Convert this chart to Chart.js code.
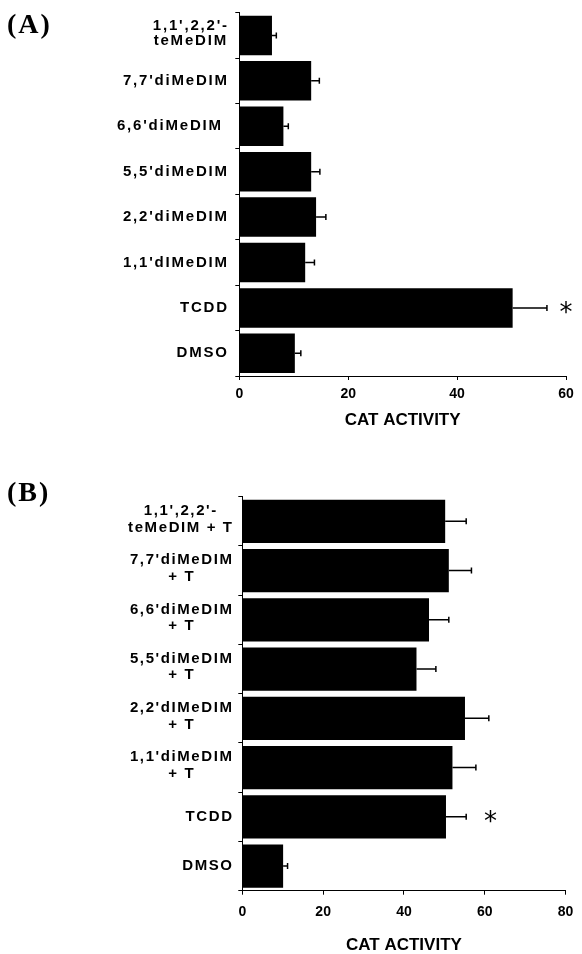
<!DOCTYPE html>
<html><head><meta charset="utf-8">
<script src="https://cdn.jsdelivr.net/npm/chart.js@4.4.1/dist/chart.umd.min.js"></script>
<style>
html,body{margin:0;padding:0;background:#fff;}
#wrap{position:relative;width:582px;height:954px;overflow:hidden;background:#fff;}
canvas{position:absolute;left:0;}
#cA{top:0;}
#cB{top:470px;}
.panel{position:absolute;left:7px;font-family:'Liberation Serif','Times New Roman',serif;font-weight:bold;font-size:28px;line-height:28px;letter-spacing:2px;color:#000;white-space:nowrap;}
</style></head><body>
<div id="wrap">
<canvas id="cA" width="582" height="470" style="width:582px;height:470px"></canvas>
<canvas id="cB" width="582" height="484" style="width:582px;height:484px"></canvas>
<div class="panel" style="top:10px">(A)</div>
<div class="panel" style="top:478px">(B)</div>
</div>
<script>
// ---- data ----
const categoriesA = [["1,1',2,2'-","teMeDIM"],"7,7'diMeDIM","6,6'diMeDIM ","5,5'diMeDIM","2,2'diMeDIM","1,1'dIMeDIM","TCDD","DMSO"];
const valuesA = [6.0, 13.2, 8.1, 13.2, 14.1, 12.1, 50.2, 10.2];
const errorsA = [0.8, 1.5, 0.9, 1.6, 1.8, 1.7, 6.3, 1.1];
const ticksA = [0, 20, 40, 60];

const categoriesB = [["1,1',2,2'-","teMeDIM + T"],["7,7'diMeDIM","+ T"],["6,6'diMeDIM","+ T"],["5,5'diMeDIM","+ T"],["2,2'dIMeDIM","+ T"],["1,1'diMeDIM","+ T"],"TCDD","DMSO"];
const valuesB = [50.2, 51.1, 46.2, 43.1, 55.1, 52.0, 50.4, 10.1];
const errorsB = [5.2, 5.6, 4.9, 4.8, 5.9, 5.8, 5.0, 1.1];
const ticksB = [0, 20, 40, 60, 80];

const axisTitle = 'CAT ACTIVITY';
const starIndex = 6;          // TCDD row marked significant
const starValueA = 60;
const starValueB = 61.4;

const SANS = '"Liberation Sans", Arial, Helvetica, sans-serif';

function build(id, labels, values, errs, ticks, starVal, geo) {
  const extras = {
    id: 'extras',
    afterDatasetsDraw(chart) {
      const ctx = chart.ctx, xs = chart.scales.x, ys = chart.scales.y;
      ctx.save();
      // error bars
      ctx.strokeStyle = '#000';
      ctx.lineWidth = 1.5;
      values.forEach((v, i) => {
        const yc = ys.getPixelForValue(i);
        const x0 = xs.getPixelForValue(v), x1 = xs.getPixelForValue(v + errs[i]);
        ctx.beginPath();
        ctx.moveTo(x0, yc); ctx.lineTo(x1, yc);
        ctx.moveTo(x1, yc - 3); ctx.lineTo(x1, yc + 3);
        ctx.stroke();
      });
      // significance star
      ctx.fillStyle = '#000';
      ctx.font = '26px "DejaVu Sans", sans-serif';
      ctx.textAlign = 'left';
      ctx.textBaseline = 'alphabetic';
      const m = ctx.measureText('*');
      const sx = xs.getPixelForValue(starVal), sy = ys.getPixelForValue(starIndex);
      ctx.fillText('*', sx - (m.actualBoundingBoxRight - m.actualBoundingBoxLeft) / 2 + m.actualBoundingBoxLeft,
                   sy + (m.actualBoundingBoxAscent - m.actualBoundingBoxDescent) / 2);
      // category labels
      ctx.font = 'bold 15px ' + SANS;
      ctx.letterSpacing = geo.ls + 'px';
      ctx.textAlign = 'center';
      ctx.textBaseline = 'middle';
      labels.forEach((lab, i) => {
        const lines = Array.isArray(lab) ? lab : [lab];
        const w = Math.max(...lines.map(l => ctx.measureText(l).width));
        const cx = geo.labelRight + geo.ls - w / 2;
        const yc = ys.getPixelForValue(i) + (lines.length > 1 ? geo.mlOff : 0);
        lines.forEach((l, k) => ctx.fillText(l, cx, yc + (k - (lines.length - 1) / 2) * geo.lh));
      });
      ctx.restore();
    }
  };
  return new Chart(document.getElementById(id), {
    type: 'bar',
    data: {
      labels: labels.map(l => Array.isArray(l) ? l.join(' ') : l),
      datasets: [{ data: values, backgroundColor: '#000', borderWidth: 0,
                   barPercentage: geo.bp, categoryPercentage: 1 }]
    },
    options: {
      indexAxis: 'y', responsive: false, animation: false, events: [],
      layout: { padding: { top: geo.top, right: geo.right, bottom: geo.bottom, left: 0 } },
      plugins: { legend: { display: false }, tooltip: { enabled: false } },
      scales: {
        x: {
          type: 'linear', min: ticks[0], max: ticks[ticks.length - 1],
          afterBuildTicks(s) { s.ticks = ticks.map(v => ({ value: v })); },
          ticks: { padding: geo.tp, color: '#000', font: { family: SANS, size: 14, weight: 'bold' } },
          grid: { drawOnChartArea: false, tickLength: 4, color: '#000', lineWidth: 1 },
          border: { color: '#000', width: 1 },
          title: { display: true, text: axisTitle, color: '#000', padding: 0,
                   font: { family: SANS, size: 17, weight: 'bold', lineHeight: 1 } },
          afterFit(s) { s.height = geo.xh; }
        },
        y: {
          ticks: { display: false },
          grid: { drawOnChartArea: false, tickLength: 4, color: '#000', offset: true, lineWidth: 1 },
          border: { color: '#000', width: 1 },
          afterFit(s) { s.width = geo.yw; }
        }
      }
    },
    plugins: [extras]
  });
}

build('cA', categoriesA, valuesA, errorsA, ticksA, starValueA,
  { top: 12.7, right: 16, bottom: 41.5, yw: 239.3, xh: 52.5, tp: 5.6, bp: 0.87,
    labelRight: 227, ls: 1.8, lh: 15, mlOff: -2 });
build('cB', categoriesB, valuesB, errorsB, ticksB, starValueB,
  { top: 26.7, right: 9.7, bottom: 0, yw: 242.3, xh: 63.3, tp: 8.6, bp: 0.88,
    labelRight: 232, ls: 1.6, lh: 16.5, mlOff: -2 });
</script>
</body></html>
